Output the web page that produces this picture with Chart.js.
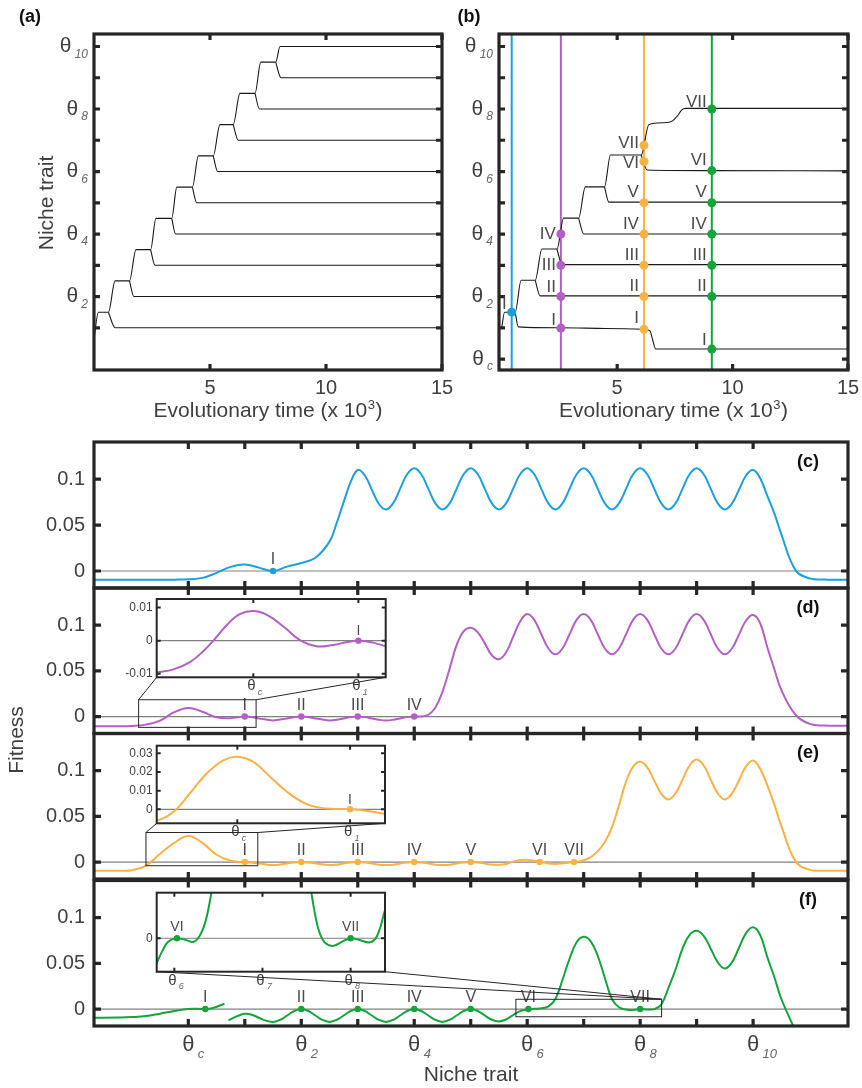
<!DOCTYPE html>
<html lang="en">
<head>
<meta charset="UTF-8">
<title>Niche trait evolution and fitness landscapes</title>
<script src="https://cdn.jsdelivr.net/npm/chart.js"></script>
<style>
  body { margin: 0; background: #fff; }
  #figure { position: relative; width: 862px; height: 1088px; }
  #figure canvas { position: absolute; left: 0; top: 0; }
</style>
</head>
<body>
<div id="figure"></div>
<script>
// ---------- values ----------

// (a), (b): time in 10^3, niche trait in units of theta (theta_c = 0)
const timeTicks = [5, 10, 15];
const nicheTicksA = [1, 2, 3, 4, 5, 6, 7, 8, 9, 10];
const nicheTicksB = [0, 1, 2, 3, 4, 5, 6, 7, 8, 9, 10];
const nicheLabels = { 0: 'c', 2: '2', 4: '4', 6: '6', 8: '8', 10: '10' };

// (a) ancestral lineage climbing in steps
const stemTimeA  = [0, 0.19, 0.62, 0.91, 1.53, 1.81, 2.44, 2.67, 3.35, 3.57, 4.24, 4.50, 5.14, 5.43, 6.00, 6.29, 6.94, 7.19, 7.83, 8.02, 15];
const stemTraitA = [0.65, 1.5, 1.5, 2.5, 2.5, 3.5, 3.5, 4.5, 4.5, 5.5, 5.5, 6.5, 6.5, 7.5, 7.5, 8.5, 8.5, 9.5, 9.5, 10, 10];
// (a) species splitting off downwards at each step
const splitTimeA   = [0.62, 1.53, 2.44, 3.35, 4.24, 5.14, 6.00, 6.94, 7.83];
const splitTraitA  = [1.5, 2.5, 3.5, 4.5, 5.5, 6.5, 7.5, 8.5, 9.5];
const settleTimeA  = [0.91, 1.72, 2.63, 3.52, 4.43, 5.33, 6.22, 7.13, 8.06];
const settleTraitA = [1, 2, 3, 4, 5, 6, 7, 8, 9];

// (b) the run sampled at four times
const stemTimeB  = [0, 0.12, 0.58, 0.84, 1.45, 1.74, 2.39, 2.68, 3.33, 3.62, 4.45, 4.71, 6.04, 6.37, 7.03, 7.40, 7.60, 7.80, 7.97, 15];
const stemTraitB = [1.0, 1.5, 1.5, 2.52, 2.52, 3.52, 3.52, 4.51, 4.51, 5.51, 5.51, 6.53, 6.53, 7.5, 7.56, 7.62, 7.77, 7.97, 8.02, 8.02];
const lineITime  = [0.58, 0.72, 2.5, 4.5, 6.2, 6.42, 6.52, 6.67, 15];
const lineITrait = [1.5, 1.03, 1.0, 0.98, 0.95, 0.9, 0.66, 0.32, 0.32];
const lineVITime  = [6.04, 6.30, 9.0, 15];
const lineVITrait = [6.53, 6.05, 6.03, 6.02];
const splitTimeB   = [1.45, 2.39, 3.33, 4.45];
const splitTraitB  = [2.52, 3.52, 4.51, 5.51];
const settleTimeB  = [1.66, 2.61, 3.55, 4.64];
const settleTraitB = [2.02, 3.02, 4.0, 5.02];

// sampled times (blue, purple, orange, green) and the species present then
const snapTime = [0.43, 2.56, 6.16, 9.1];
const snapTraitBlue   = [1.5];
const snapTraitPurple = [0.99, 2.0, 3.0, 4.0];
const snapTraitOrange = [0.95, 2.0, 3.0, 4.0, 5.0, 6.32, 6.84];
const snapTraitGreen  = [0.32, 2.0, 3.0, 4.0, 5.0, 6.03, 8.0];
const roman = ['I', 'II', 'III', 'IV', 'V', 'VI', 'VII'];

// (c)-(f): invasion fitness along the niche trait
const traitTicks = [0, 1, 2, 3, 4, 5, 6, 7, 8, 9, 10];
const fitTicks = [0, 0.05, 0.1];
const fitTickText = ['0', '0.05', '0.1'];
// sample points: coarse on the flanks, every 1/8 theta where the landscape ripples
const traitGrid = [-1.75, -1.5, -1.25, -1, -0.75, -0.5, -0.25, 0, 0.25, 0.5, 0.75, 1, 1.25, 1.5, 1.75, 2, 2.25, 2.5,
  2.625, 2.75, 2.875, 3,
  3.125, 3.25, 3.375, 3.5, 3.625, 3.75, 3.875, 4,
  4.125, 4.25, 4.375, 4.5, 4.625, 4.75, 4.875, 5,
  5.125, 5.25, 5.375, 5.5, 5.625, 5.75, 5.875, 6,
  6.125, 6.25, 6.375, 6.5, 6.625, 6.75, 6.875, 7,
  7.125, 7.25, 7.375, 7.5, 7.625, 7.75, 7.875, 8,
  8.125, 8.25, 8.375, 8.5, 8.625, 8.75, 8.875, 9,
  9.125, 9.25, 9.375, 9.5, 9.625, 9.75, 9.875, 10,
  10.125, 10.25, 10.375, 10.5,
  10.75, 11, 11.25, 11.5, 11.75];
const fitnessC = [-0.0095, -0.0095, -0.0095, -0.0095, -0.0095, -0.0095, -0.0094, -0.0091, -0.0075, -0.002, 0.0045, 0.007, 0.0037, 0, 0.0048, 0.0088, 0.0145, 0.032,
  0.052, 0.075, 0.097, 0.110,
  0.104, 0.0885, 0.073, 0.067, 0.0736, 0.0895, 0.1054, 0.112,
  0.1054, 0.0895, 0.0736, 0.067, 0.0736, 0.0895, 0.1054, 0.112,
  0.1054, 0.0895, 0.0736, 0.067, 0.0736, 0.0895, 0.1054, 0.112,
  0.1054, 0.0895, 0.0736, 0.067, 0.0736, 0.0895, 0.1054, 0.112,
  0.1054, 0.0895, 0.0736, 0.067, 0.0736, 0.0895, 0.1054, 0.112,
  0.1054, 0.0895, 0.0736, 0.067, 0.0736, 0.0895, 0.1054, 0.112,
  0.1054, 0.0895, 0.0736, 0.067, 0.0733, 0.0885, 0.104, 0.110,
  0.101, 0.082, 0.063, 0.040,
  0.001, -0.008, -0.0093, -0.0095, -0.0095];
const fitnessD = [-0.0105, -0.0105, -0.0105, -0.0102, -0.0088, -0.0045, 0.0048, 0.0095, 0.0052, -0.0008, -0.0018, 0, -0.002, -0.0042, -0.002, 0, -0.002, -0.0042,
  -0.0035, -0.002, -0.0006, 0,
  -0.0006, -0.002, -0.0035, -0.0042, -0.0035, -0.002, -0.0006, 0,
  0.0002, 0.002, 0.010, 0.027, 0.052, 0.078, 0.093, 0.097,
  0.092, 0.080, 0.067, 0.0626, 0.070, 0.087, 0.104, 0.112,
  0.1056, 0.090, 0.0744, 0.068, 0.0744, 0.090, 0.1056, 0.112,
  0.1056, 0.090, 0.0744, 0.068, 0.0744, 0.090, 0.1056, 0.112,
  0.1056, 0.090, 0.0744, 0.068, 0.0744, 0.090, 0.1056, 0.112,
  0.1056, 0.090, 0.0744, 0.068, 0.0744, 0.0895, 0.105, 0.111,
  0.102, 0.076, 0.052, 0.029,
  0.002, -0.008, -0.0098, -0.0099, -0.0099];
const fitnessE = [-0.0094, -0.0094, -0.0094, -0.009, -0.004, 0.009, 0.021, 0.0285, 0.021, 0.008, 0.0015, 0, -0.0015, -0.0033, -0.0015, 0, -0.0015, -0.0033,
  -0.0028, -0.0015, -0.0004, 0,
  -0.0004, -0.0015, -0.0028, -0.0033, -0.0028, -0.0015, -0.0004, 0,
  -0.0004, -0.0015, -0.0028, -0.0033, -0.0028, -0.0015, -0.0004, 0,
  -0.0005, -0.0017, -0.0027, -0.003, -0.002, 0.0005, 0.0022, 0.0024,
  0.0015, 0, -0.0015, -0.002, -0.0015, -0.0005, 0.0003, 0.002,
  0.0055, 0.012, 0.022, 0.038, 0.062, 0.088, 0.104, 0.1095,
  0.1035, 0.089, 0.0745, 0.0685, 0.075, 0.090, 0.1055, 0.112,
  0.1055, 0.090, 0.075, 0.0685, 0.0748, 0.0895, 0.1045, 0.111,
  0.102, 0.084, 0.063, 0.0395,
  0.001, -0.0085, -0.0094, -0.0094, -0.0094];
// (f) is drawn in two pieces: the landscape jumps just right of species I
const fitTraitF1 = [-1.75, -1.5, -1.25, -1, -0.75, -0.5, -0.25, 0, 0.15, 0.3, 0.45, 0.64];
const fitnessF1  = [-0.0095, -0.0095, -0.0093, -0.0088, -0.0077, -0.005, -0.0022, 0.0002, 0.0004, 0, 0.0015, 0.0058];
const fitTraitF2 = [0.71, 0.875, 1, 1.125, 1.25, 1.375, 1.5, 1.625, 1.75, 1.875,
  2, 2.125, 2.25, 2.375, 2.5, 2.625, 2.75, 2.875,
  3, 3.125, 3.25, 3.375, 3.5, 3.625, 3.75, 3.875,
  4, 4.125, 4.25, 4.375, 4.5, 4.625, 4.75, 4.875,
  5, 5.125, 5.25, 5.375, 5.5, 5.625, 5.75, 5.875,
  6, 6.125, 6.25, 6.375, 6.5, 6.625, 6.75, 6.875,
  7, 7.125, 7.25, 7.375, 7.5, 7.625, 7.75, 7.875,
  8, 8.125, 8.25, 8.375, 8.5, 8.625, 8.75, 8.875,
  9, 9.125, 9.25, 9.375, 9.5, 9.625, 9.75, 9.875,
  10, 10.125, 10.25, 10.375, 10.5, 10.75, 11];
const fitnessF2 = [-0.0124, -0.0075, -0.0052, -0.0062, -0.0095, -0.0126, -0.014, -0.0119, -0.007, -0.0021,
  0, -0.0021, -0.007, -0.0119, -0.014, -0.0119, -0.007, -0.0021,
  0, -0.0021, -0.007, -0.0119, -0.014, -0.0119, -0.007, -0.0021,
  0, -0.0021, -0.007, -0.0119, -0.014, -0.0119, -0.007, -0.0021,
  0, -0.0021, -0.007, -0.0117, -0.0135, -0.0113, -0.0065, -0.0022,
  -0.0005, 0.0003, 0.0008, 0.003, 0.011, 0.032, 0.055, 0.073,
  0.079, 0.074, 0.058, 0.034, 0.011, 0.002, -0.0005, -0.001,
  0, -0.0005, 0, 0.005, 0.023, 0.043, 0.066, 0.081,
  0.0855, 0.080, 0.066, 0.051, 0.0443, 0.051, 0.067, 0.083,
  0.0894, 0.081, 0.057, 0.035, 0.011, -0.024, -0.06];

const residentsC = [1.5];
const residentsD = [1, 2, 3, 4];
const residentsE = [1, 2, 3, 4, 5, 6.22, 6.83];
const residentsF = [0.3, 2, 3, 4, 5, 6.02, 8.0];
const residentFitC = [0];
const residentFitD = [0, 0, 0, 0];
const residentFitE = [0, 0, 0, 0, 0, 0, 0];
const residentFitF = [0, 0, 0, 0, 0, 0, 0];

// insets
const insetTraitD = [-0.92, -0.76, -0.6, -0.48, -0.38, -0.25, -0.13, 0, 0.13, 0.29, 0.44, 0.6, 0.76, 0.9, 1.02, 1.14, 1.26];
const insetFitD   = [-0.0096, -0.0087, -0.0064, -0.0033, 0, 0.0048, 0.008, 0.009, 0.0078, 0.0042, 0.0002, -0.0017, -0.0013, -0.0004, 0, -0.0006, -0.0017];
const insetTraitE = [-0.715, -0.63, -0.54, -0.42, -0.27, -0.12, 0, 0.14, 0.29, 0.44, 0.59, 0.73, 0.88, 1.02, 1.16, 1.31];
const insetFitE   = [-0.0061, -0.004, 0, 0.0086, 0.0193, 0.0264, 0.0282, 0.0255, 0.0175, 0.0094, 0.0035, 0.0009, 0.0002, 0, -0.0009, -0.0025];
const insetTraitF1 = [5.8, 5.86, 5.93, 6.03, 6.13, 6.22, 6.29, 6.35, 6.41, 6.45];
const insetFitF1   = [-0.0056, -0.003, -0.0008, 0, -0.0004, -0.0008, 0.0006, 0.0035, 0.009, 0.014];
const insetTraitF2 = [7.54, 7.6, 7.65, 7.72, 7.81, 7.9, 8.0, 8.1, 8.22, 8.3, 8.39];
const insetFitF2   = [0.012, 0.005, 0.0011, -0.0012, -0.0017, -0.0008, 0, -0.0004, -0.0009, 0.0005, 0.0063];
const insetTicksD = [-0.01, 0, 0.01];
const insetTickTextD = ['-0.01', '0', '0.01'];
const insetTicksE = [0, 0.01, 0.02, 0.03];
const insetTickTextE = ['0', '0.01', '0.02', '0.03'];
const insetTicksF = [0];
const insetTickTextF = ['0'];

// ---------- drawing ----------
const W = 862, H = 1088;
const FONT = '"Liberation Sans", Arial, Helvetica, sans-serif';
const INK = '#262626', TXT = '#3f3f3f', SUBTXT = '#666';
const BLUE = '#1b9fdf', PURPLE = '#b260c2', ORANGE = '#fcb144', GREEN = '#13a43a';
const TREE = '#1a1a1a';
const SNAP_COLORS = [BLUE, PURPLE, ORANGE, GREEN];
const TIME_MAX = 15;

let pluginCount = 0;
function makeChart(box, xr, yr, datasets, hooks) {
  const canvas = document.createElement('canvas');
  canvas.width = W; canvas.height = H;
  document.getElementById('figure').appendChild(canvas);
  return new Chart(canvas.getContext('2d'), {
    type: 'line',
    data: { datasets: datasets },
    options: {
      responsive: false,
      animation: false,
      devicePixelRatio: 1,
      events: [],
      layout: { padding: { left: box.l, top: box.t, right: W - box.r, bottom: H - box.b } },
      plugins: { legend: { display: false }, tooltip: { enabled: false } },
      scales: {
        x: { type: 'linear', min: xr[0], max: xr[1], display: false },
        y: { type: 'linear', min: yr[0], max: yr[1], display: false }
      }
    },
    plugins: [Object.assign({ id: 'panel' + (pluginCount++) }, hooks)]
  });
}

function pts(xs, ys) { return xs.map((x, i) => ({ x: x, y: ys[i] })); }
// tree paths: monotone (flat steps stay flat)
function path(xs, ys, color, width, order) {
  return { data: pts(xs, ys), borderColor: color, borderWidth: width, pointRadius: 0, fill: false,
           cubicInterpolationMode: 'monotone', order: order === undefined ? 2 : order };
}
// fitness curves
function curve(xs, ys, color) {
  return { data: pts(xs, ys), borderColor: color, borderWidth: 2, pointRadius: 0, fill: false,
           tension: 0.4, order: 2 };
}
function dots(xs, ys, color, r) {
  return { data: pts(xs, ys), showLine: false, pointRadius: r, pointBackgroundColor: color,
           pointBorderWidth: 0, borderColor: color, order: 0 };
}

function text(ctx, s, x, y, font, color, align) {
  ctx.save();
  ctx.font = font; ctx.fillStyle = color;
  ctx.textAlign = align || 'center'; ctx.textBaseline = 'middle';
  ctx.fillText(s, x, y);
  ctx.restore();
}

// theta with italic subscript; 'right' = group ends at x, 'center' = theta glyph centred at x
function theta(ctx, x, y, sub, big, small, mode, drop) {
  ctx.save();
  ctx.font = big + 'px ' + FONT;
  const wt = ctx.measureText('θ').width;
  ctx.font = 'italic ' + small + 'px ' + FONT;
  const ws = ctx.measureText(sub).width;
  const gap = Math.max(2, big * 0.15);
  const x0 = mode === 'right' ? x - ws - gap - wt : x - wt / 2;
  ctx.textAlign = 'left'; ctx.textBaseline = 'middle';
  ctx.fillStyle = TXT;
  ctx.font = big + 'px ' + FONT;
  ctx.fillText('θ', x0, y);
  ctx.fillStyle = SUBTXT;
  ctx.font = 'italic ' + small + 'px ' + FONT;
  ctx.fillText(sub, x0 + wt + gap, y + drop);
  ctx.restore();
}

function drawFrame(chart, xt, yt, lw, tl) {
  const { ctx, chartArea: a, scales: { x, y } } = chart;
  ctx.save();
  ctx.strokeStyle = INK; ctx.lineWidth = lw; ctx.lineCap = 'butt';
  ctx.beginPath();
  xt.forEach(v => {
    const p = x.getPixelForValue(v);
    ctx.moveTo(p, a.top); ctx.lineTo(p, a.top + tl);
    ctx.moveTo(p, a.bottom); ctx.lineTo(p, a.bottom - tl);
  });
  yt.forEach(v => {
    const p = y.getPixelForValue(v);
    ctx.moveTo(a.left, p); ctx.lineTo(a.left + tl, p);
    ctx.moveTo(a.right, p); ctx.lineTo(a.right - tl, p);
  });
  ctx.stroke();
  ctx.strokeRect(a.left, a.top, a.right - a.left, a.bottom - a.top);
  ctx.restore();
}

function zeroLine(chart, color) {
  const { ctx, chartArea: a, scales: { y } } = chart;
  const p = y.getPixelForValue(0);
  ctx.save();
  ctx.strokeStyle = color; ctx.lineWidth = 1.2;
  ctx.beginPath(); ctx.moveTo(a.left, p); ctx.lineTo(a.right, p); ctx.stroke();
  ctx.restore();
}

function timeAxisText(chart) {
  const { ctx, chartArea: a, scales: { x } } = chart;
  timeTicks.forEach(v => text(ctx, String(v), x.getPixelForValue(v), a.bottom + 18, '20px ' + FONT, TXT));
  const cx = (a.left + a.right) / 2, cy = a.bottom + 41;
  ctx.save();
  ctx.font = '21px ' + FONT;
  const w1 = ctx.measureText('Evolutionary time (x 10').width;
  const w3 = ctx.measureText(')').width;
  ctx.font = '13px ' + FONT;
  const w2 = ctx.measureText('3').width;
  const x0 = cx - (w1 + w2 + w3 + 1) / 2;
  ctx.fillStyle = TXT; ctx.textBaseline = 'middle'; ctx.textAlign = 'left';
  ctx.font = '21px ' + FONT;
  ctx.fillText('Evolutionary time (x 10', x0, cy);
  ctx.fillText(')', x0 + w1 + w2 + 1, cy);
  ctx.font = '13px ' + FONT;
  ctx.fillText('3', x0 + w1 + 0.5, cy - 6);
  ctx.restore();
}

function nicheAxisText(chart, ticks) {
  const { ctx, chartArea: a, scales: { y } } = chart;
  ticks.forEach(v => {
    if (nicheLabels[v] !== undefined) theta(ctx, a.left - 6, y.getPixelForValue(v), nicheLabels[v], 21, 12, 'right', 8);
  });
}

// ---------- (a) ----------
const boxA = { l: 94, t: 34, r: 442, b: 370 };
const nicheRange = [-0.35, 10.4];
const dsA = [path(stemTimeA, stemTraitA, TREE, 1.1)];
splitTimeA.forEach((t, i) => {
  dsA.push(path([t, settleTimeA[i], TIME_MAX], [splitTraitA[i], settleTraitA[i], settleTraitA[i]], TREE, 1.1));
});
makeChart(boxA, [0, TIME_MAX], nicheRange, dsA, {
  afterDraw(chart) {
    const ctx = chart.ctx;
    drawFrame(chart, timeTicks, nicheTicksA, 3.2, 6);
    timeAxisText(chart);
    nicheAxisText(chart, nicheTicksA);
    ctx.save();
    ctx.translate(47, 203); ctx.rotate(-Math.PI / 2);
    text(ctx, 'Niche trait', 0, 0, '21px ' + FONT, TXT);
    ctx.restore();
    text(ctx, '(a)', 30, 17, 'bold 18px ' + FONT, '#111');
  }
});

// ---------- (b) ----------
const boxB = { l: 499, t: 34, r: 848, b: 370 };
const dsB = [
  path(stemTimeB, stemTraitB, TREE, 1.1, 1),
  path(lineITime, lineITrait, TREE, 1.1, 1),
  path(lineVITime, lineVITrait, TREE, 1.1, 1)
];
splitTimeB.forEach((t, i) => {
  dsB.push(path([t, settleTimeB[i], TIME_MAX], [splitTraitB[i], settleTraitB[i], settleTraitB[i]], TREE, 1.1, 1));
});
const snapTraits = [snapTraitBlue, snapTraitPurple, snapTraitOrange, snapTraitGreen];
snapTime.forEach((t, i) => {
  dsB.push({ data: [{ x: t, y: nicheRange[0] }, { x: t, y: nicheRange[1] }], borderColor: SNAP_COLORS[i],
             borderWidth: 2, pointRadius: 0, order: 3 });
  dsB.push(dots(snapTraits[i].map(() => t), snapTraits[i], SNAP_COLORS[i], 4.5));
});
const liftB = [[8], [8, 9, 0, 0], [11, 10, 10, 10, 10, -2, 2], [9, 10, 10, 10, 10, 10, 7]];
makeChart(boxB, [-0.12, TIME_MAX], nicheRange, dsB, {
  afterDraw(chart) {
    const { ctx, scales: { x, y } } = chart;
    drawFrame(chart, timeTicks, nicheTicksB, 3.2, 6);
    timeAxisText(chart);
    nicheAxisText(chart, nicheTicksB);
    snapTime.forEach((t, i) => {
      snapTraits[i].forEach((v, k) => {
        text(ctx, roman[k], x.getPixelForValue(t) - 5, y.getPixelForValue(v) - liftB[i][k], '17px ' + FONT, '#4a4a4a', 'right');
      });
    });
    text(ctx, '(b)', 469, 17, 'bold 18px ' + FONT, '#111');
  }
});

// ---------- (c)-(f) ----------
const traitRange = [-1.67, 11.68];
const fitRange = [-0.0185, 0.1405];

function fitnessHooks(letter, residents, extra) {
  return {
    beforeDatasetsDraw(chart) { zeroLine(chart, '#808080'); },
    afterDraw(chart) {
      const { ctx, chartArea: a, scales: { x, y } } = chart;
      drawFrame(chart, traitTicks, fitTicks, 3.2, 7);
      fitTicks.forEach((v, i) => text(ctx, fitTickText[i], a.left - 9, y.getPixelForValue(v), '20px ' + FONT, TXT, 'right'));
      residents.forEach((v, k) => text(ctx, roman[k], x.getPixelForValue(v), y.getPixelForValue(0) - 11, '16px ' + FONT, '#4a4a4a'));
      text(ctx, letter, a.right - 40, a.top + 20, 'bold 18px ' + FONT, '#111');
      if (extra) extra(chart);
    }
  };
}

const chartC = makeChart({ l: 94, t: 442, r: 848, b: 588 }, traitRange, fitRange, [
  curve(traitGrid, fitnessC, BLUE), dots(residentsC, residentFitC, BLUE, 3.2)
], fitnessHooks('(c)', residentsC));

const chartD = makeChart({ l: 94, t: 588, r: 848, b: 733.5 }, traitRange, fitRange, [
  curve(traitGrid, fitnessD, PURPLE), dots(residentsD, residentFitD, PURPLE, 3.2)
], fitnessHooks('(d)', residentsD));

const chartE = makeChart({ l: 94, t: 733.5, r: 848, b: 879 }, traitRange, fitRange, [
  curve(traitGrid, fitnessE, ORANGE), dots(residentsE, residentFitE, ORANGE, 3.2)
], fitnessHooks('(e)', residentsE, chart => {
  const ctx = chart.ctx;
  ctx.save();
  ctx.translate(17, 740); ctx.rotate(-Math.PI / 2);
  text(ctx, 'Fitness', 0, 0, '21px ' + FONT, TXT);
  ctx.restore();
}));

const chartF = makeChart({ l: 94, t: 880.5, r: 848, b: 1026 }, traitRange, fitRange, [
  curve(fitTraitF1, fitnessF1, GREEN), curve(fitTraitF2, fitnessF2, GREEN),
  dots(residentsF, residentFitF, GREEN, 3.2)
], fitnessHooks('(f)', residentsF, chart => {
  const { ctx, chartArea: a, scales: { x } } = chart;
  traitTicks.forEach(v => {
    if (nicheLabels[v] !== undefined) theta(ctx, x.getPixelForValue(v), a.bottom + 19, nicheLabels[v], 22, 13, 'center', 9);
  });
  text(ctx, 'Niche trait', (a.left + a.right) / 2, 1075, '21px ' + FONT, TXT);
}));

// ---------- insets ----------
function insetHooks(main, win, links, yt, ytText, xt, residents, lift) {
  return {
    beforeDatasetsDraw(chart) {
      const { ctx, chartArea: a } = chart;
      ctx.save(); ctx.fillStyle = '#fff';
      ctx.fillRect(a.left, a.top, a.right - a.left, a.bottom - a.top);
      ctx.restore();
      zeroLine(chart, '#808080');
    },
    afterDraw(chart) {
      const { ctx, chartArea: a, scales: { x, y } } = chart;
      drawFrame(chart, xt, yt, 2, 4);
      yt.forEach((v, i) => text(ctx, ytText[i], a.left - 4, y.getPixelForValue(v), '12px ' + FONT, TXT, 'right'));
      xt.forEach(v => theta(ctx, x.getPixelForValue(v) - 2, a.bottom + 9, v === 0 ? 'c' : String(v), 15, 9, 'center', 6));
      residents.forEach(r => text(ctx, roman[r[1]], x.getPixelForValue(r[0]), y.getPixelForValue(0) - lift, '14px ' + FONT, '#4a4a4a'));
      // zoom window in the main panel and the lines joining it to the inset
      const mx = main.scales.x, my = main.scales.y;
      const r = { l: mx.getPixelForValue(win[0]), r: mx.getPixelForValue(win[1]), t: my.getPixelForValue(win[3]), b: my.getPixelForValue(win[2]) };
      const ins = { bl: [a.left, a.bottom], br: [a.right, a.bottom] };
      const tgt = { tl: [r.l, r.t], tr: [r.r, r.t] };
      ctx.save();
      ctx.strokeStyle = INK; ctx.lineWidth = 1;
      ctx.strokeRect(r.l, r.t, r.r - r.l, r.b - r.t);
      ctx.beginPath();
      links.forEach(k => { ctx.moveTo(ins[k[0]][0], ins[k[0]][1]); ctx.lineTo(tgt[k[1]][0], tgt[k[1]][1]); });
      ctx.stroke();
      ctx.restore();
    }
  };
}

makeChart({ l: 156.7, t: 599, r: 385.7, b: 677.3 }, [-0.92, 1.26], [-0.0111, 0.0126], [
  curve(insetTraitD, insetFitD, PURPLE), dots([1], [0], PURPLE, 3.2)
], insetHooks(chartD, [-0.88, 1.2, -0.0118, 0.0184], [['bl', 'tl'], ['br', 'tr']],
  insetTicksD, insetTickTextD, [0, 1], [[1, 0]], 9));

makeChart({ l: 156.7, t: 745.7, r: 385, b: 823.3 }, [-0.715, 1.31], [-0.0075, 0.0341], [
  curve(insetTraitE, insetFitE, ORANGE), dots([1], [0], ORANGE, 3.2)
], insetHooks(chartE, [-0.75, 1.23, -0.004, 0.0323], [['bl', 'tl'], ['br', 'tr']],
  insetTicksE, insetTickTextE, [0, 1], [[1, 0]], 9));

makeChart({ l: 156.7, t: 892.7, r: 385, b: 971.7 }, [5.8, 8.39], [-0.0075, 0.0102], [
  curve(insetTraitF1, insetFitF1, GREEN), curve(insetTraitF2, insetFitF2, GREEN),
  dots([6.03, 8.0], [0, 0], GREEN, 3.2)
], insetHooks(chartF, [5.8, 8.38, -0.0084, 0.0107], [['bl', 'tr'], ['br', 'tr']],
  insetTicksF, insetTickTextF, [6, 7, 8], [[6.03, 5], [8.0, 6]], 11));
</script>
</body>
</html>
